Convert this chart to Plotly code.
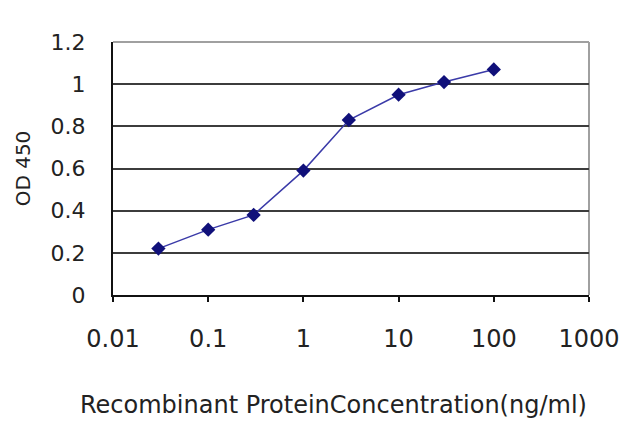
import plotly.graph_objects as go

conc = [0.03, 0.1, 0.3, 1, 3, 10, 30, 100]
od = [0.22, 0.31, 0.38, 0.59, 0.83, 0.95, 1.01, 1.07]
x_ticks = [0.01, 0.1, 1, 10, 100, 1000]
x_tick_text = ["0.01", "0.1", "1", "10", "100", "1000"]
y_ticks = [0, 0.2, 0.4, 0.6, 0.8, 1, 1.2]
y_tick_text = ["0", "0.2", "0.4", "0.6", "0.8", "1", "1.2"]
x_title = "Recombinant ProteinConcentration(ng/ml)"
y_title = "OD 450"

fig = go.Figure()
fig.add_trace(go.Scatter(
    x=conc, y=od, mode="lines+markers",
    line=dict(color="#3a3aa8", width=1.5),
    marker=dict(symbol="diamond", size=11, color="#10107a"),
))

font = dict(family="DejaVu Sans, sans-serif", size=22, color="#222222")

fig.update_layout(
    width=640, height=427,
    margin=dict(l=105, r=59, t=34, b=140),
    paper_bgcolor="white", plot_bgcolor="white",
    showlegend=False,
    font=font,
    xaxis=dict(
        type="log", range=[-2, 3], automargin=False,
        tickvals=x_ticks, ticktext=x_tick_text,
        tickfont=dict(size=24),
        showgrid=False, zeroline=False,
        showline=True, linecolor="#111111", linewidth=2,
        ticks="outside", ticklen=5, tickwidth=2, tickcolor="#111111",
        ticklabelstandoff=16,
    ),
    yaxis=dict(
        range=[0, 1.2], automargin=False,
        tickvals=y_ticks, ticktext=y_tick_text,
        showgrid=True, gridcolor="#3c3c3c", gridwidth=2,
        zeroline=False,
        showline=True, linecolor="#111111", linewidth=2,
        ticks="", ticklabelstandoff=21,
        title=dict(text=y_title, standoff=15, font=dict(size=20, color="#222222")),
    ),
    annotations=[
        dict(text=x_title, xref="paper", yref="paper", x=0.464, y=-0.435,
             xanchor="center", yanchor="middle", showarrow=False,
             font=dict(size=24, color="#222222")),
    ],
    shapes=[
        dict(type="line", xref="paper", yref="paper", x0=0, x1=1, y0=1, y1=1,
             line=dict(color="#a0a0a0", width=2), layer="above"),
        dict(type="line", xref="paper", yref="paper", x0=1, x1=1, y0=0, y1=1,
             line=dict(color="#a0a0a0", width=2), layer="below"),
    ],
)

fig.write_html("out.html")
